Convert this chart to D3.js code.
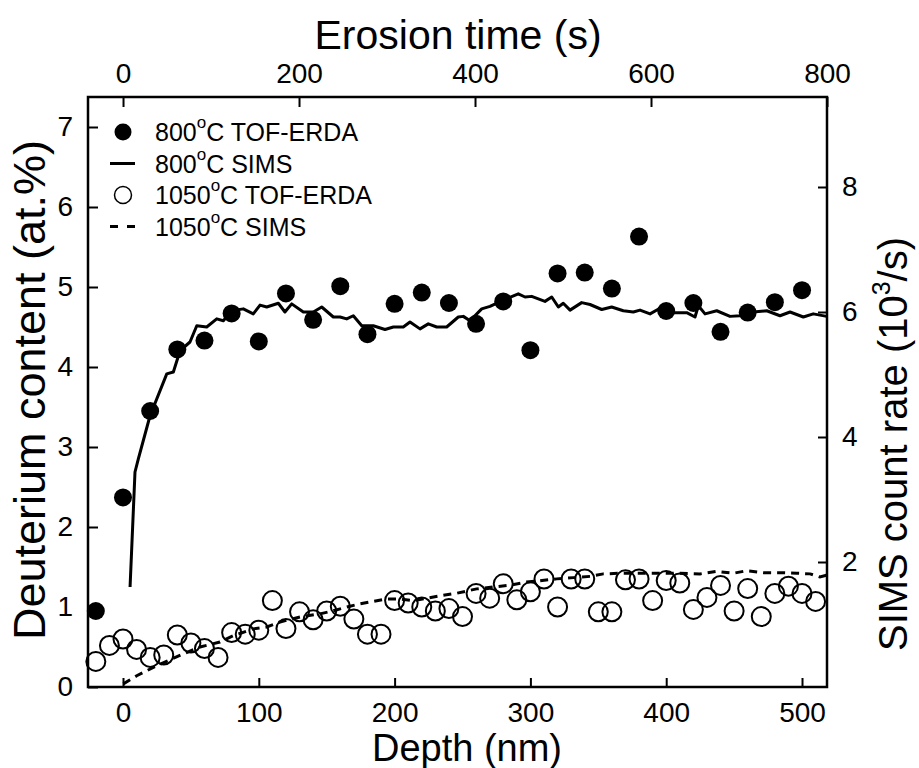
<!DOCTYPE html>
<html>
<head>
<meta charset="utf-8">
<title>Deuterium depth profile</title>
<script src="https://cdnjs.cloudflare.com/ajax/libs/d3/7.8.5/d3.min.js"></script>
<style>
  body { margin: 0; background: #fff; }
  svg { font-family: "Liberation Sans", Arial, sans-serif; }
  .axis path { display: none; }
  .axis line { stroke: #000; stroke-width: 2; }
  .axis text { font-size: 28px; fill: #000; }
</style>
</head>
<body>
<svg id="svg" width="919" height="768"></svg>
<script>
// TOF-ERDA, 800 C anneal (depth nm, at.%)
const erda800Depth = [-20, 0, 20, 40, 60, 80, 100, 120, 140, 160, 180, 200, 220, 240,
  260, 280, 300, 320, 340, 360, 380, 400, 420, 440, 460, 480, 500];
const erda800 = [0.95, 2.37, 3.45, 4.22, 4.33, 4.67, 4.32, 4.92, 4.59, 5.01, 4.41, 4.79, 4.93, 4.80,
  4.54, 4.82, 4.21, 5.17, 5.18, 4.98, 5.63, 4.70, 4.80, 4.44, 4.68, 4.81, 4.96];

// TOF-ERDA, 1050 C anneal
const erda1050Depth = [-20, -10, 0, 10, 20, 30, 40, 50, 60, 70, 80, 90, 100, 110, 120, 130, 140,
  150, 160, 170, 180, 190, 200, 210, 220, 230, 240, 250, 260, 270, 280, 290, 300, 310, 320, 330,
  340, 350, 360, 370, 380, 390, 400, 410, 420, 430, 440, 450, 460, 470, 480, 490, 500, 510];
const erda1050 = [0.32, 0.52, 0.60, 0.47, 0.37, 0.40, 0.65, 0.55, 0.48, 0.37, 0.68, 0.66, 0.71, 1.08,
  0.73, 0.94, 0.84, 0.95, 1.01, 0.85, 0.66, 0.66, 1.08, 1.05, 1.00, 0.95, 0.98, 0.88, 1.17, 1.11,
  1.29, 1.09, 1.19, 1.35, 1.00, 1.35, 1.35, 0.94, 0.94, 1.34, 1.35, 1.08, 1.33, 1.30, 0.97, 1.12,
  1.27, 0.95, 1.23, 0.88, 1.17, 1.26, 1.17, 1.07];

// SIMS, 800 C (erosion time s, count rate 10^3/s)
const sims800Time = [8, 13.6, 17.4, 30.7, 49.7, 57.2, 64.8, 76.1, 83.8, 95.1, 106.5, 114, 123.5,
  136.7, 148, 155.7, 163.3, 176.5, 184, 191.7, 204.9, 216.3, 225.8, 239, 246.6, 254.2, 261.7,
  271.3, 284.4, 297.7, 307.2, 318.5, 326.1, 337.5, 346.9, 356.5, 367.8, 381, 386.7, 394.3, 407.6,
  417, 432.2, 449.2, 456.8, 464.4, 479.5, 487.2, 494.7, 500.3, 508, 521.2, 530.7, 544, 555.3,
  568.5, 579.9, 587.5, 598.9, 610.2, 625.3, 640.6, 650, 653.8, 661.4, 674.7, 689.8, 701.1, 716.3,
  731.5, 746.6, 758, 773.1, 784.4, 799.7];
const sims800 = [1.6, 3.44, 3.65, 4.34, 5.01, 5.04, 5.38, 5.52, 5.78, 5.76, 5.89, 5.86, 6.02,
  6.05, 5.97, 6.11, 6.08, 6.14, 6.0, 6.13, 6.0, 6.0, 6.08, 5.92, 5.92, 5.89, 5.94,
  5.78, 5.78, 5.72, 5.76, 5.76, 5.84, 5.73, 5.81, 5.76, 5.76, 5.92, 5.93, 5.86, 6.05,
  6.09, 6.19, 6.29, 6.24, 6.25, 6.17, 6.24, 6.08, 6.14, 6.03, 6.15, 6.12, 6.04, 6.08,
  6.02, 6.0, 6.03, 5.97, 6.06, 5.99, 5.99, 5.92, 6.1, 5.97, 6.02, 5.93, 5.94, 6.0,
  6.02, 5.94, 6.0, 5.92, 5.97, 5.93];

// SIMS, 1050 C
const sims1050Time = [0.3, 15.6, 38.3, 68.5, 87.5, 110.2, 125.3, 148, 163.3, 178.4, 201.1, 223.9,
  239, 254.2, 269.3, 299.7, 314.8, 329.9, 360.2, 379.2, 401.9, 420.8, 439.8, 458.8, 473.9, 492.8,
  511.7, 530.7, 545.8, 564.8, 587.5, 610.2, 633, 655.7, 674.7, 693.5, 708.8, 727.6, 746.6, 765.6,
  780.7, 792, 799.7];
const sims1050 = [0.05, 0.18, 0.34, 0.53, 0.64, 0.72, 0.82, 0.93, 0.96, 1.04, 1.12, 1.17,
  1.22, 1.28, 1.33, 1.41, 1.41, 1.38, 1.46, 1.5, 1.57, 1.6, 1.63, 1.68, 1.7, 1.73,
  1.75, 1.77, 1.81, 1.82, 1.82, 1.82, 1.82, 1.81, 1.85, 1.82, 1.86, 1.83, 1.83, 1.82,
  1.81, 1.76, 1.79];

const depthTicks = [0, 100, 200, 300, 400, 500];
const timeTicks = [0, 200, 400, 600, 800];
const contentTicks = [0, 1, 2, 3, 4, 5, 6, 7];
const rateTicks = [2, 4, 6, 8];

const legendItems = [
  { num: "800", rest: "C TOF-ERDA", kind: "filled" },
  { num: "800", rest: "C SIMS", kind: "solid" },
  { num: "1050", rest: "C TOF-ERDA", kind: "open" },
  { num: "1050", rest: "C SIMS", kind: "dashed" }
];

const L = 88, R = 827, T = 97, B = 687;
const svg = d3.select('#svg');

const x = d3.scaleLinear().domain([-25.77, 518.4]).range([L, R]);
const xTime = d3.scaleLinear().domain([-39.8, 800]).range([L, R]);
const y = d3.scaleLinear().domain([0, 7.375]).range([B, T]);
const yRate = d3.scaleLinear().domain([0, 9.44]).range([B, T]);

// axes, ticks pointing inward
svg.append('g').attr('class', 'axis').attr('transform', `translate(0,${B})`)
  .call(d3.axisBottom(x).tickValues(depthTicks).tickSize(-9).tickPadding(15));
svg.append('g').attr('class', 'axis').attr('transform', `translate(0,${T})`)
  .call(d3.axisTop(xTime).tickValues(timeTicks).tickSize(-10).tickPadding(14));
svg.append('g').attr('class', 'axis').attr('transform', `translate(${L},0)`)
  .call(d3.axisLeft(y).tickValues(contentTicks).tickSize(-10).tickPadding(15));
svg.append('g').attr('class', 'axis').attr('transform', `translate(${R},0)`)
  .call(d3.axisRight(yRate).tickValues(rateTicks).tickSize(-9).tickPadding(15));

svg.append('rect').attr('x', L).attr('y', T).attr('width', R - L).attr('height', B - T)
  .attr('fill', 'none').attr('stroke', '#000').attr('stroke-width', 2.5);

// titles
svg.append('text').attr('x', 458).attr('y', 49).attr('text-anchor', 'middle')
  .attr('font-size', 41).text('Erosion time (s)');
svg.append('text').attr('x', 467).attr('y', 761).attr('text-anchor', 'middle')
  .attr('font-size', 38).text('Depth (nm)');
svg.append('text').attr('transform', 'translate(45,390) rotate(-90)').attr('text-anchor', 'middle')
  .attr('font-size', 45).text('Deuterium content (at.%)');
const rt = svg.append('text').attr('transform', 'translate(879,444) rotate(-90)')
  .attr('text-anchor', 'middle').attr('font-size', 40).attr('dy', '0.7em');
rt.append('tspan').text('SIMS count rate (10');
rt.append('tspan').attr('font-size', 25).attr('dy', -17).text('3');
rt.append('tspan').attr('dy', 17).text('/s)');

// SIMS lines
const line = (xs, ys) => d3.line().x((d, i) => xTime(xs[i])).y((d, i) => yRate(ys[i]))(xs);
svg.append('path').attr('d', line(sims800Time, sims800))
  .attr('fill', 'none').attr('stroke', '#000').attr('stroke-width', 3).attr('stroke-linejoin', 'round');
svg.append('path').attr('d', line(sims1050Time, sims1050))
  .attr('fill', 'none').attr('stroke', '#000').attr('stroke-width', 3).attr('stroke-dasharray', '8,6');

// ERDA points
svg.append('g').selectAll('circle').data(erda1050Depth).join('circle')
  .attr('cx', d => x(d)).attr('cy', (d, i) => y(erda1050[i])).attr('r', 9.5)
  .attr('fill', 'none').attr('stroke', '#000').attr('stroke-width', 2);
svg.append('g').selectAll('circle').data(erda800Depth).join('circle')
  .attr('cx', d => x(d)).attr('cy', (d, i) => y(erda800[i])).attr('r', 9)
  .attr('fill', '#000');

// legend
const lg = svg.append('g').attr('transform', 'translate(0,132)');
legendItems.forEach((it, i) => {
  const g = lg.append('g').attr('transform', `translate(0,${i * 31.5})`);
  if (it.kind === 'filled') g.append('circle').attr('cx', 123).attr('r', 8.5).attr('fill', '#000');
  if (it.kind === 'open') g.append('circle').attr('cx', 123).attr('r', 8.5).attr('fill', 'none')
    .attr('stroke', '#000').attr('stroke-width', 1.5);
  if (it.kind === 'solid') g.append('line').attr('x1', 110).attr('x2', 135)
    .attr('stroke', '#000').attr('stroke-width', 3);
  if (it.kind === 'dashed') g.append('line').attr('x1', 110).attr('x2', 136)
    .attr('stroke', '#000').attr('stroke-width', 3).attr('stroke-dasharray', '8,9');
  const t = g.append('text').attr('x', 155).attr('y', 9).attr('font-size', 25);
  t.append('tspan').text(it.num);
  t.append('tspan').attr('font-size', 17).attr('dy', -13).text('o');
  t.append('tspan').attr('dy', 13).text(it.rest);
});
</script>
</body>
</html>
